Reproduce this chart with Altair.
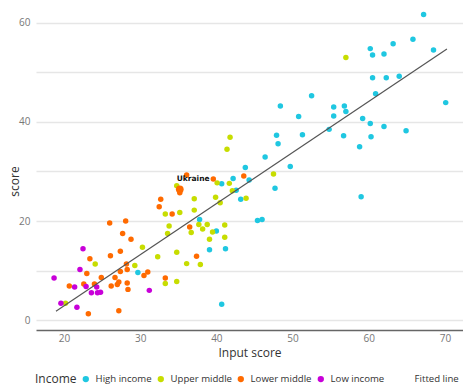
import altair as alt
import pandas as pd

# ---- data ----
high_x = [67.2, 65.8, 63.2, 60.2, 60.5, 62.0, 68.5, 60.5, 62.3, 64.0, 60.9, 70.1, 52.5, 48.4,
          55.4, 56.8, 57.0, 50.8, 55.4, 59.2, 60.2, 62.0, 64.9, 54.8, 51.3, 47.9, 48.1, 56.7,
          60.3, 58.8, 46.4, 49.7, 43.8, 42.2, 44.3, 42.6, 47.7, 43.2, 59.0, 45.4, 46.0, 40.7,
          37.8, 40.0, 39.1, 41.2, 29.7, 40.7]
high_y = [61.7, 56.7, 55.8, 54.8, 53.5, 53.7, 54.5, 48.9, 48.9, 49.2, 45.7, 43.9, 45.3, 43.2,
          43.0, 43.2, 42.1, 41.1, 41.2, 40.7, 39.7, 39.1, 38.2, 38.5, 37.4, 37.3, 35.6, 37.2,
          37.0, 35.0, 32.9, 31.0, 30.8, 28.6, 28.3, 26.2, 26.6, 24.4, 24.9, 20.1, 20.3, 27.5,
          20.3, 18.0, 14.2, 14.4, 9.6, 3.2]

upper_x = [57.0, 47.5, 41.8, 41.4, 40.1, 41.7, 42.1, 43.9, 34.8, 37.1, 39.9, 40.5, 37.1, 33.3,
           35.2, 37.7, 38.8, 38.2, 33.8, 33.6, 36.7, 39.5, 41.1, 41.1, 39.1, 34.8, 32.3, 36.1,
           37.9, 33.3, 34.8, 30.3, 24.1, 29.3, 20.2]
upper_y = [53.0, 29.5, 36.9, 34.5, 27.7, 27.6, 26.1, 24.6, 27.1, 24.5, 24.8, 23.7, 22.2, 21.4,
           21.7, 19.3, 19.3, 18.4, 19.0, 17.5, 17.7, 17.8, 19.2, 16.7, 16.3, 13.7, 12.8, 11.4,
           11.2, 7.4, 7.8, 14.7, 11.3, 11.0, 3.4]

lower_x = [43.6, 36.1, 39.6, 35.2, 32.7, 32.5, 34.2, 36.5, 37.4, 33.3, 26.0, 28.1, 27.7, 28.8,
           27.4, 26.1, 23.4, 28.2, 28.3, 27.4, 30.5, 31.0, 23.0, 24.9, 26.7, 27.2, 27.0, 28.3,
           28.4, 26.2, 24.0, 22.6, 20.7, 27.2, 23.2]
lower_y = [29.1, 29.3, 28.5, 25.7, 24.4, 22.9, 21.4, 18.8, 12.9, 8.5, 19.6, 20.0, 17.5, 16.3,
           13.9, 13.0, 12.4, 11.3, 10.2, 9.8, 9.0, 9.7, 9.4, 8.6, 8.6, 7.7, 7.2, 7.5,
           6.2, 6.9, 7.3, 7.3, 6.9, 1.9, 1.3]

low_x = [22.5, 22.1, 18.7, 21.4, 22.9, 24.3, 23.6, 24.4, 24.8, 31.2, 19.6, 21.7]
low_y = [14.4, 10.2, 8.5, 6.7, 6.8, 6.7, 5.5, 5.5, 5.6, 6.0, 3.4, 2.6]

ukraine_x = [35.2]
ukraine_y = [26.4]
ukraine_label = ["Ukraine"]

fit_x = [18.95, 70.26]
fit_y = [1.8, 54.7]

groups = ["High income", "Upper middle", "Lower middle", "Low income"]
group_colors = ["#1FC7E1", "#C7DD00", "#FF6A00", "#C800D9"]

rows = []
for name, xs, ys in [("High income", high_x, high_y), ("Upper middle", upper_x, upper_y),
                     ("Lower middle", lower_x, lower_y), ("Low income", low_x, low_y)]:
    for a, b in zip(xs, ys):
        rows.append({"x": a, "y": b, "income": name})
pts = pd.DataFrame(rows)
ukr = pd.DataFrame({"x": ukraine_x, "y": ukraine_y, "label": ukraine_label, "income": ["Lower middle"]})
fit = pd.DataFrame({"x": fit_x, "y": fit_y, "name": ["Fitted line"] * 2})

FONT = "Open Sans"
xscale = alt.Scale(domain=[16.33, 72.37], nice=False, zero=False)
yscale = alt.Scale(domain=[-2.0, 63.0], nice=False, zero=False)

xenc = alt.X("x:Q", scale=xscale, axis=alt.Axis(
    title="Input score", values=[20, 30, 40, 50, 60, 70], grid=False, ticks=False,
    domainColor="#666", domainWidth=1.5, labelColor="#777", labelFontSize=10,
    labelPadding=3, titleFontSize=12, titleColor="#333", titleFontWeight="normal",
    titlePadding=4, labelFont=FONT, titleFont=FONT))
yenc = alt.Y("y:Q", scale=yscale, axis=alt.Axis(
    title="score", values=[0, 10, 20, 30, 40, 50, 60],
    labelExpr="datum.value % 20 == 0 ? datum.label : ''",
    domain=False, ticks=False, gridColor="#e6e6e6", gridWidth=1.5,
    labelColor="#777", labelFontSize=10, labelPadding=6, titleFontSize=12,
    titleColor="#333", titleFontWeight="normal", titleX=-15, titleY=173,
    titleBaseline="bottom", titleAngle=270,
    labelFont=FONT, titleFont=FONT))

points = alt.Chart(pts).mark_circle(size=30, opacity=1).encode(
    x=xenc, y=yenc,
    color=alt.Color("income:N", scale=alt.Scale(domain=groups, range=group_colors),
                    legend=alt.Legend(title="Income", orient="none", direction="horizontal",
                                      titleOrient="left", legendX=-1, legendY=366,
                                      titleFontSize=12, titleFontWeight="normal",
                                      titleColor="#333", titleFont=FONT, titlePadding=4,
                                      labelFontSize=9.6, labelColor="#333", labelFont=FONT,
                                      symbolType="circle", symbolSize=40, labelOffset=5,
                                      columnPadding=4, symbolStrokeWidth=0)),
)

ukr_pt = alt.Chart(ukr).mark_circle(size=60, opacity=1, color="#FF6A00").encode(
    x=alt.X("x:Q", scale=xscale), y=alt.Y("y:Q", scale=yscale))
ukr_txt = alt.Chart(ukr).mark_text(align="left", dx=-3, dy=-10, fontSize=7.5,
                                   fontWeight="bold", font="DejaVu Sans", color="#111").encode(
    x=alt.X("x:Q", scale=xscale), y=alt.Y("y:Q", scale=yscale), text="label:N")

line = alt.Chart(fit).mark_line(strokeWidth=1.2).encode(
    x=alt.X("x:Q", scale=xscale), y=alt.Y("y:Q", scale=yscale),
    stroke=alt.Stroke("name:N", scale=alt.Scale(range=["#555555"]),
                      legend=alt.Legend(title=None, orient="none", legendX=368, legendY=366,
                                        symbolType="stroke", symbolOpacity=0,
                                        labelFontSize=9.6, labelColor="#333", labelFont=FONT,
                                        symbolSize=20, labelOffset=1)),
)

chart = alt.layer(points, line, ukr_pt, ukr_txt).properties(
    width=427, height=322,
    padding={"left": 28, "top": 0, "right": 0, "bottom": 56},
    autosize=alt.AutoSizeParams(type="none"),
).configure_view(stroke=None)

chart.save("out.html", embed_options={"renderer": "svg", "actions": False})
